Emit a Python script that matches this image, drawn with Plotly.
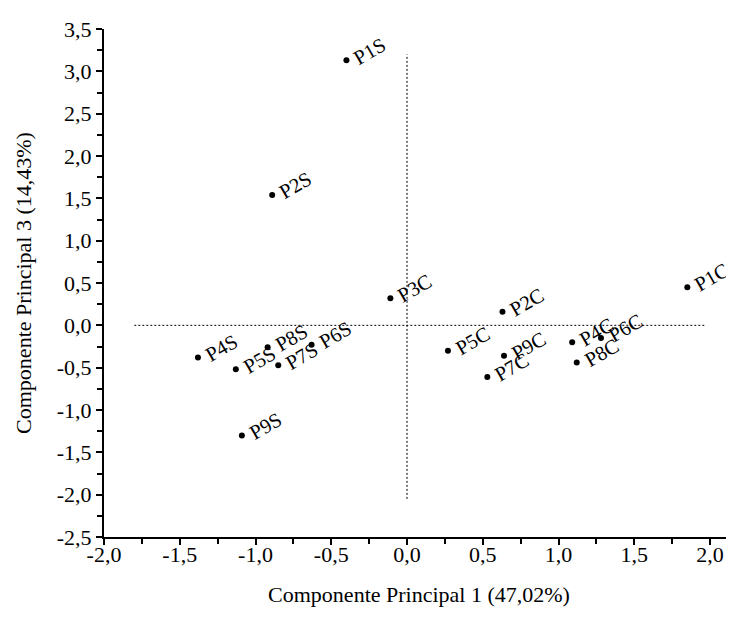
import plotly.graph_objects as go

# ---- data ----
labels = ["P1S", "P2S", "P3C", "P4S", "P5S", "P6S", "P7S", "P8S", "P9S",
          "P1C", "P2C", "P4C", "P5C", "P6C", "P7C", "P8C", "P9C"]
pc1 = [-0.40, -0.89, -0.11, -1.38, -1.13, -0.63, -0.85, -0.92, -1.09,
       1.85, 0.63, 1.09, 0.27, 1.28, 0.53, 1.12, 0.64]
pc3 = [3.13, 1.54, 0.32, -0.38, -0.52, -0.23, -0.47, -0.26, -1.30,
       0.45, 0.16, -0.20, -0.30, -0.15, -0.61, -0.44, -0.36]

# reference (origin) lines
hline_x = [-1.80, 1.97]
hline_y = [0.0, 0.0]
vline_x = [0.0, 0.0]
vline_y = [-2.05, 3.20]

x_tick_vals = [-2.0, -1.5, -1.0, -0.5, 0.0, 0.5, 1.0, 1.5, 2.0]
x_tick_text = ["-2,0", "-1,5", "-1,0", "-0,5", "0,0", "0,5", "1,0", "1,5", "2,0"]
y_tick_vals = [-2.5, -2.0, -1.5, -1.0, -0.5, 0.0, 0.5, 1.0, 1.5, 2.0, 2.5, 3.0, 3.5]
y_tick_text = ["-2,5", "-2,0", "-1,5", "-1,0", "-0,5", "0,0", "0,5", "1,0",
               "1,5", "2,0", "2,5", "3,0", "3,5"]

x_title = "Componente Principal 1 (47,02%)"
y_title = "Componente Principal 3 (14,43%)"

FONT = "Liberation Serif"

fig = go.Figure()
fig.add_trace(go.Scatter(x=hline_x, y=hline_y, mode="lines",
                         line=dict(color="black", width=1, dash="2px,2px"),
                         hoverinfo="skip", showlegend=False))
fig.add_trace(go.Scatter(x=vline_x, y=vline_y, mode="lines",
                         line=dict(color="black", width=1, dash="2px,2px"),
                         hoverinfo="skip", showlegend=False))
fig.add_trace(go.Scatter(x=pc1, y=pc3, mode="markers", text=labels,
                         marker=dict(color="black", size=6),
                         showlegend=False))

for lx, ly, lt in zip(pc1, pc3, labels):
    fig.add_annotation(x=lx, y=ly, text=lt, showarrow=False,
                       textangle=-30, xanchor="left", yanchor="bottom",
                       xshift=1, yshift=-11,
                       font=dict(family=FONT, size=20.5, color="black"))

axis_common = dict(
    showline=True, linecolor="black", linewidth=2,
    ticks="outside", ticklen=6, tickwidth=2, tickcolor="black",
    showgrid=False, zeroline=False, mirror=False,
    tickfont=dict(family=FONT, size=22, color="black"),
    automargin=False,
    minor=dict(ticks="outside", ticklen=5, tickwidth=2, tickcolor="black",
               dtick=0.25, showgrid=False),
)

# page body adds an 8px offset, so the figure is sized to fill the rest
fig.update_layout(
    width=726, height=611,
    plot_bgcolor="white", paper_bgcolor="white",
    margin=dict(l=96, r=0, t=21, b=82),
    font=dict(family=FONT, color="black"),
    xaxis=dict(range=[-2.0, 2.158], tickmode="array",
               tickvals=x_tick_vals, ticktext=x_tick_text,
               ticklabelstandoff=-9,
               title=dict(text=x_title, font=dict(family=FONT, size=22),
                          standoff=20),
               **axis_common),
    yaxis=dict(range=[-2.5, 3.5], tickmode="array",
               tickvals=y_tick_vals, ticktext=y_tick_text,
               title=dict(text=y_title, font=dict(family=FONT, size=22),
                          standoff=19),
               **axis_common),
)

fig.write_html("out.html")
